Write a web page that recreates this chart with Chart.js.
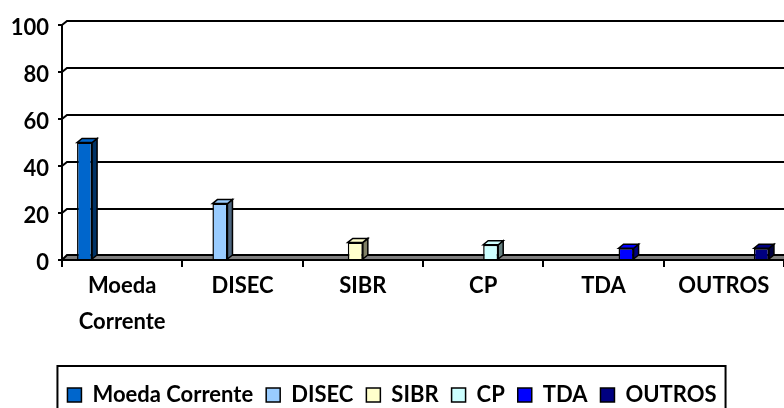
<!DOCTYPE html>
<html>
<head>
<meta charset="utf-8">
<script src="https://cdn.jsdelivr.net/npm/chart.js@4"></script>
<style>
html, body { margin: 0; padding: 0; background: #fff; }
#caixa { width: 784px; height: 408px; }
</style>
</head>
<body>
<div id="caixa"><canvas id="grafico"></canvas></div>
<script>
var series = ["Moeda Corrente", "DISEC", "SIBR", "CP", "TDA", "OUTROS"];
var rotulos = [["Moeda", "Corrente"], "DISEC", "SIBR", "CP", "TDA", "OUTROS"];
var valores = [50, 24, 7.5, 6.5, 5, 5];
var ticksY = [0, 20, 40, 60, 80, 100];

var cores = ['#0066CC', '#99CCFF', '#FFFFCC', '#CCFFFF', '#0000FF', '#000080'];
var coresLado = ['#003366', '#4D6680', '#808066', '#668080', '#000080', '#000040'];

// profundidade do efeito 3D
var DX = 5, DY = 4;

Chart.defaults.font.family = 'Lato';
Chart.defaults.font.weight = 'bold';
Chart.defaults.color = '#000';

// cada serie so tem valor na sua propria categoria
var conjuntos = series.map(function (nome, i) {
    return {
        label: nome,
        data: valores.map(function (v, j) { return j === i ? v : null; }),
        backgroundColor: cores[i],
        borderColor: '#000',
        borderWidth: 1.5
    };
});

var paredes = {
    id: 'paredes',
    beforeDatasetsDraw: function (chart) {
        var ctx = chart.ctx, a = chart.chartArea, y = chart.scales.y;
        var y0 = y.getPixelForValue(0);
        ctx.save();
        ctx.strokeStyle = '#000';
        ctx.lineWidth = 2;
        ticksY.forEach(function (v) {
            if (v === 0) return;
            var py = y.getPixelForValue(v);
            ctx.beginPath();
            ctx.moveTo(a.left, py);
            ctx.lineTo(a.left + DX, py - DY);
            ctx.lineTo(a.right, py - DY);
            ctx.stroke();
        });
        // chao
        ctx.beginPath();
        ctx.moveTo(a.left, y0);
        ctx.lineTo(a.left + DX, y0 - DY - 1);
        ctx.lineTo(a.right + 2, y0 - DY - 1);
        ctx.lineTo(a.right + 2, y0);
        ctx.closePath();
        ctx.fillStyle = '#808080';
        ctx.fill();
        ctx.stroke();
        // eixo vertical
        ctx.beginPath();
        ctx.moveTo(a.left, a.top);
        ctx.lineTo(a.left, y0 + 6);
        ctx.stroke();
        ctx.restore();
    }
};

var barras3d = {
    id: 'barras3d',
    afterDatasetsDraw: function (chart) {
        var ctx = chart.ctx;
        ctx.save();
        ctx.strokeStyle = '#000';
        ctx.lineWidth = 1.5;
        chart.data.datasets.forEach(function (ds, i) {
            chart.getDatasetMeta(i).data.forEach(function (bar, j) {
                if (ds.data[j] == null) return;
                var p = bar.getProps(['x', 'y', 'base', 'width'], true);
                var l = p.x - p.width / 2, r = p.x + p.width / 2, t = p.y, b = p.base;
                ctx.beginPath();
                ctx.moveTo(r, t);
                ctx.lineTo(r + DX, t - DY);
                ctx.lineTo(r + DX, b - DY);
                ctx.lineTo(r, b);
                ctx.closePath();
                ctx.fillStyle = coresLado[i];
                ctx.fill();
                ctx.stroke();
                ctx.beginPath();
                ctx.moveTo(l, t);
                ctx.lineTo(l + DX, t - DY);
                ctx.lineTo(r + DX, t - DY);
                ctx.lineTo(r, t);
                ctx.closePath();
                ctx.fillStyle = cores[i];
                ctx.fill();
                ctx.stroke();
            });
        });
        ctx.restore();
    }
};

var moldura = {
    id: 'moldura',
    afterDraw: function (chart) {
        var hb = chart.legend.legendHitBoxes;
        if (!hb || !hb.length) return;
        var ult = hb[hb.length - 1];
        var esq = hb[0].left - 10, dir = ult.left + ult.width + 9;
        var topo = chart.legend.top - 5;
        var ctx = chart.ctx;
        ctx.save();
        ctx.strokeStyle = '#000';
        ctx.lineWidth = 2;
        ctx.strokeRect(esq, topo, dir - esq, chart.height + 10 - topo);
        ctx.restore();
    }
};

var ct = document.getElementById('grafico');

var grafico = new Chart(ct, {
    type: 'bar',
    data: {
        labels: rotulos,
        datasets: conjuntos
    },
    options: {
        responsive: true,
        maintainAspectRatio: false,
        animation: false,
        layout: { padding: { top: 25, left: 0, right: 0, bottom: -8 } },
        datasets: {
            bar: { categoryPercentage: 0.75, barPercentage: 1 }
        },
        scales: {
            x: {
                grid: { drawOnChartArea: false, drawTicks: true, tickLength: 7, color: '#000', lineWidth: 2 },
                border: { display: false },
                ticks: {
                    font: { size: 22, weight: 'bold', lineHeight: 1.64 },
                    maxRotation: 0,
                    autoSkip: false,
                    padding: 1
                },
                afterFit: function (s) { s.height = 111; }
            },
            y: {
                min: 0,
                max: 100,
                grid: { drawOnChartArea: false, drawTicks: true, tickLength: 4, color: '#000', lineWidth: 2 },
                border: { display: false },
                ticks: {
                    stepSize: 20,
                    font: { size: 22, weight: 'bold' },
                    padding: 9,
                    labelOffset: 3
                },
                afterFit: function (s) { s.width = 62; }
            }
        },
        plugins: {
            legend: {
                position: 'bottom',
                labels: {
                    boxWidth: 14,
                    boxHeight: 14,
                    padding: 13,
                    font: { size: 22, weight: 'bold' }
                }
            },
            tooltip: { enabled: false }
        }
    },
    plugins: [paredes, barras3d, moldura]
});
</script>
</body>
</html>
